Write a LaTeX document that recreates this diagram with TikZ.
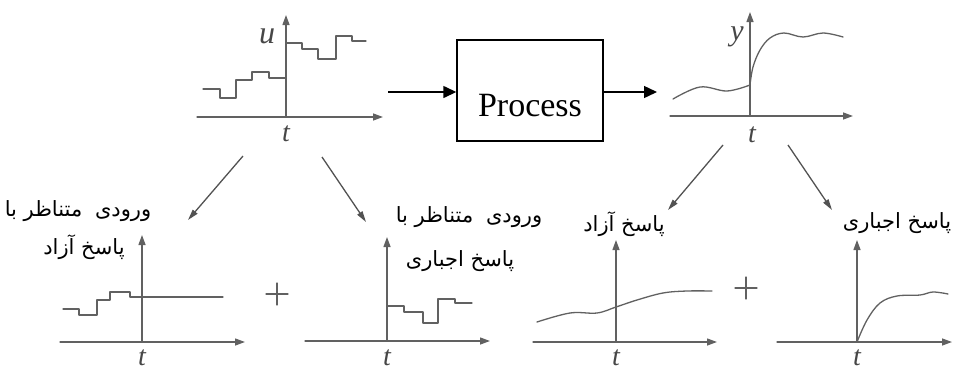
\documentclass[tikz,border=0pt]{standalone}
\usepackage{fontspec}
\setmainfont{Liberation Serif}
\newfontfamily\farsi[Script=Arabic]{DejaVu Sans}
\TeXXeTstate=1
\usetikzlibrary{arrows.meta}

\tikzset{
  pencil/.style={draw=black!62, line width=1.3pt, line join=round, line cap=round},
  axis/.style={pencil, -{Triangle[length=10pt,width=7pt]}},
  flow/.style={draw=black, line width=1.4pt, -{Triangle[length=13pt,width=12pt]}},
  split/.style={draw=black!68, line width=1.3pt, -{Triangle[length=11pt,width=6pt]}},
  fa/.style={font=\farsi\fontsize{21}{24}\selectfont, inner sep=0pt},
  hand/.style={font=\fontsize{28}{30}\selectfont\itshape, text=black!72, inner sep=0pt},
  plussign/.pic={\draw[pencil] (-11,0) -- (11,0) (0,-11) -- (0,11);}
}

\begin{document}
\begin{tikzpicture}[x=1pt,y=-1pt]
\useasboundingbox (0,0) rectangle (953,370);

% ---- input signal u(t)
\draw[axis] (197,117) -- (383,117);
\draw[axis] (286,117) -- (286,15);
\node[hand, font=\fontsize{32}{34}\selectfont\itshape] (ulab) at (267,36) {u};
\node[hand] (ut) at (286,134) {t};
\draw[pencil] (203,89) -| (220,98) -| (236,80) -| (252,72) -| (269,78) -- (286,78);
\draw[pencil] (286,43) -| (302,49) -| (318,59) -| (336,36) -| (352,41) -- (366,41);

% ---- the process block
\node[draw=black, line width=1.4pt, minimum width=146pt, minimum height=101pt, inner sep=0pt] (proc) at (530,90.5) {};
\node[font=\fontsize{34}{36}\selectfont, anchor=base, inner sep=0pt] (proctext) at (530,116) {Process};
\coordinate (inStart) at (388,92);
\coordinate (outEnd) at (657,92);
\draw[flow] (inStart) -- (inStart -| proc.west);
\draw[flow] (proc.east |- outEnd) -- (outEnd);

% ---- output signal y(t)
\draw[axis] (670,116) -- (853,116);
\draw[axis] (750,116) -- (750,12);
\node[hand, font=\fontsize{30}{32}\selectfont\itshape] (ylab) at (737,37) {y};
\node[hand] (yt) at (752,135) {t};
\draw[pencil] plot[smooth, tension=0.6] coordinates {(673,99) (700,87) (727,91) (750,85)};
\draw[pencil] plot[smooth, tension=0.6] coordinates {(750,85) (753,67) (760,50) (770,38) (784,33) (803,37) (823,33) (843,37)};

% ---- splitting arrows
\coordinate (a1) at (243,156); \coordinate (a2) at (188,220);
\coordinate (b1) at (322,157); \coordinate (b2) at (366,222);
\coordinate (c1) at (723,145); \coordinate (c2) at (668,210);
\coordinate (d1) at (788,145); \coordinate (d2) at (832,210);
\draw[split] (a1) -- (a2);
\draw[split] (b1) -- (b2);
\draw[split] (c1) -- (c2);
\draw[split] (d1) -- (d2);

% ---- input part for the free response
\draw[axis] (60,342) -- (245,342);
\draw[axis] (142,342) -- (142,235);
\node[hand] (t1) at (142,358) {t};
\draw[pencil] (63,309) -| (79,315) -| (97,300) -| (110,292) -| (130,297) -- (223,297);
\node[fa] (l1a) at (78,211) {\beginR ورودی\hspace{6pt} متناظر با\endR};
\node[fa] (l1b) at (84,247) {\beginR پاسخ آزاد\endR};

\pic at (277,294) {plussign};

% ---- input part for the forced response
\draw[axis] (305,341) -- (490,341);
\draw[axis] (387,341) -- (387,237);
\node[hand] (t2) at (387,358) {t};
\draw[pencil] (387,306) -| (404,312) -| (423,323) -| (438,299) -| (455,303) -- (472,303);
\node[fa] (l2a) at (469,217) {\beginR ورودی\hspace{6pt} متناظر با\endR};
\node[fa] (l2b) at (460,261) {\beginR پاسخ اجباری\endR};

% ---- free response
\draw[axis] (533,342) -- (717,342);
\draw[axis] (616,342) -- (616,240);
\node[hand] (t3) at (616,358) {t};
\draw[pencil] plot[smooth, tension=0.6] coordinates {(537,322) (570,313) (597,313) (616,307) (637,300) (663,293) (687,291) (712,291)};
\node[fa] (l3) at (624,224) {\beginR پاسخ آزاد\endR};

\pic at (746,288) {plussign};

% ---- forced response
\draw[axis] (777,342) -- (952,342);
\draw[axis] (857,342) -- (857,240);
\node[hand] (t4) at (857,358) {t};
\draw[pencil] plot[smooth, tension=0.6] coordinates {(857,342) (867,320) (880,303) (897,296) (920,295) (933,292) (948,294)};
\node[fa] (l4) at (897,223) {\beginR پاسخ اجباری\endR};
\end{tikzpicture}
\end{document}
